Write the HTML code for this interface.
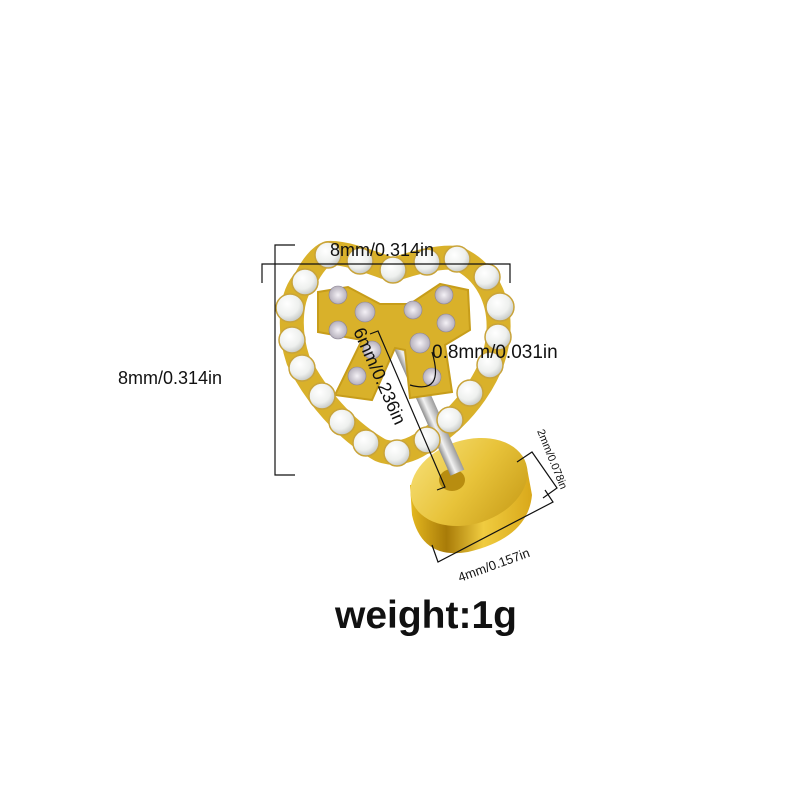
<!DOCTYPE html>
<html><head><meta charset="utf-8"><style>
html,body{margin:0;padding:0;background:#fff;}
svg{display:block}
text{font-family:"Liberation Sans","DejaVu Sans",sans-serif;fill:#111}
</style></head><body>
<svg width="800" height="800" viewBox="0 0 800 800">
<defs>
<radialGradient id="pearl" cx="0.4" cy="0.35" r="0.7">
<stop offset="0" stop-color="#ffffff"/><stop offset="0.6" stop-color="#eef0ee"/><stop offset="1" stop-color="#bfc2bf"/>
</radialGradient>
<radialGradient id="cz" cx="0.5" cy="0.5" r="0.6">
<stop offset="0" stop-color="#f4f1f6"/><stop offset="1" stop-color="#a9a3b0"/>
</radialGradient>
<linearGradient id="gold" x1="0" y1="0" x2="1" y2="1">
<stop offset="0" stop-color="#f7e17a"/><stop offset="0.5" stop-color="#e8c33a"/><stop offset="1" stop-color="#c69a16"/>
</linearGradient>
<linearGradient id="side" x1="0" y1="0" x2="1" y2="0">
<stop offset="0" stop-color="#e6b920"/><stop offset="0.3" stop-color="#a87b08"/><stop offset="0.6" stop-color="#f0cc40"/><stop offset="1" stop-color="#d9a81a"/>
</linearGradient>
<linearGradient id="post" x1="0" y1="0" x2="1" y2="0">
<stop offset="0" stop-color="#8d8d8d"/><stop offset="0.4" stop-color="#f2f2f2"/><stop offset="1" stop-color="#9a9a9a"/>
</linearGradient>
</defs>

<path d="M328,253 C345,252 370,262 393,270 C415,262 440,256 457,258 C485,270 502,300 498,337 C494,375 465,415 427,440 C410,452 395,456 380,450 C345,430 315,395 298,360 C288,330 290,295 305,280 C312,266 320,256 328,253 Z" fill="none" stroke="#d9b12a" stroke-width="24" stroke-linejoin="round"/>

<g>
<path d="M410,485 L412,515 Q422,560 468,552 Q528,538 532,495 L527,468 Z" fill="url(#side)"/>
<ellipse cx="469" cy="482" rx="60" ry="42" transform="rotate(-18 469 482)" fill="url(#gold)"/>
<ellipse cx="452" cy="480" rx="13" ry="11" fill="#b88d10"/>
</g>

<g transform="rotate(-24 400 345)">
<rect x="393" y="340" width="15" height="145" fill="url(#post)"/>
</g>

<path d="M318,292 L348,287 L380,304 L410,304 L440,284 L468,290 L470,330 L445,345 L452,392 L410,398 L405,350 L395,348 L372,400 L335,395 L362,340 L318,332 Z" fill="#d9b12a" stroke="#c79d1a" stroke-width="2"/>
<g fill="url(#cz)" stroke="#8c8494" stroke-width="0.6">
<circle cx="338" cy="295" r="9"/><circle cx="365" cy="312" r="10"/><circle cx="338" cy="330" r="9"/>
<circle cx="413" cy="310" r="9"/><circle cx="444" cy="295" r="9"/><circle cx="446" cy="323" r="9"/>
<circle cx="372" cy="350" r="9"/><circle cx="357" cy="376" r="9"/><circle cx="420" cy="343" r="10"/><circle cx="432" cy="377" r="9"/>
</g>

<g fill="url(#pearl)" stroke="#c9a43a" stroke-width="1.5">
<circle cx="328" cy="255" r="13"/><circle cx="360" cy="261" r="13"/><circle cx="393" cy="270" r="13"/>
<circle cx="427" cy="262" r="13"/><circle cx="457" cy="259" r="13"/><circle cx="487" cy="277" r="13"/>
<circle cx="500" cy="307" r="14"/><circle cx="498" cy="337" r="13"/><circle cx="490" cy="365" r="13"/>
<circle cx="470" cy="393" r="13"/><circle cx="450" cy="420" r="13"/><circle cx="427" cy="440" r="13"/>
<circle cx="397" cy="453" r="13"/><circle cx="366" cy="443" r="13"/><circle cx="342" cy="422" r="13"/>
<circle cx="322" cy="396" r="13"/><circle cx="302" cy="368" r="13"/><circle cx="292" cy="340" r="13"/>
<circle cx="290" cy="308" r="14"/><circle cx="305" cy="282" r="13"/>
</g>

<g stroke="#111" stroke-width="1.2" fill="none">
<polyline points="262,283 262,264 510,264 510,283"/>
<polyline points="295,245 275,245 275,475 295,475"/>
<polyline points="370,334 378,331 445,487 437,490"/>
<polyline points="517,462 532,452 557,488 543,498"/>
<polyline points="432,545 438,562 553,502 545,490"/>
<path d="M432,352 Q445,395 410,385" />
</g>

<text x="330" y="256" font-size="18">8mm/0.314in</text>
<text x="118" y="384" font-size="18">8mm/0.314in</text>
<text x="432" y="358" font-size="19">0.8mm/0.031in</text>
<text x="0" y="0" font-size="18" transform="translate(353,331) rotate(66)">6mm/0.236in</text>
<text x="0" y="0" font-size="11" transform="translate(537,431) rotate(68)">2mm/0.078in</text>
<text x="0" y="0" font-size="13" transform="translate(460,582) rotate(-20)">4mm/0.157in</text>
<text x="335" y="628" font-size="39" font-weight="bold">weight:1g</text>
</svg>
</body></html>
